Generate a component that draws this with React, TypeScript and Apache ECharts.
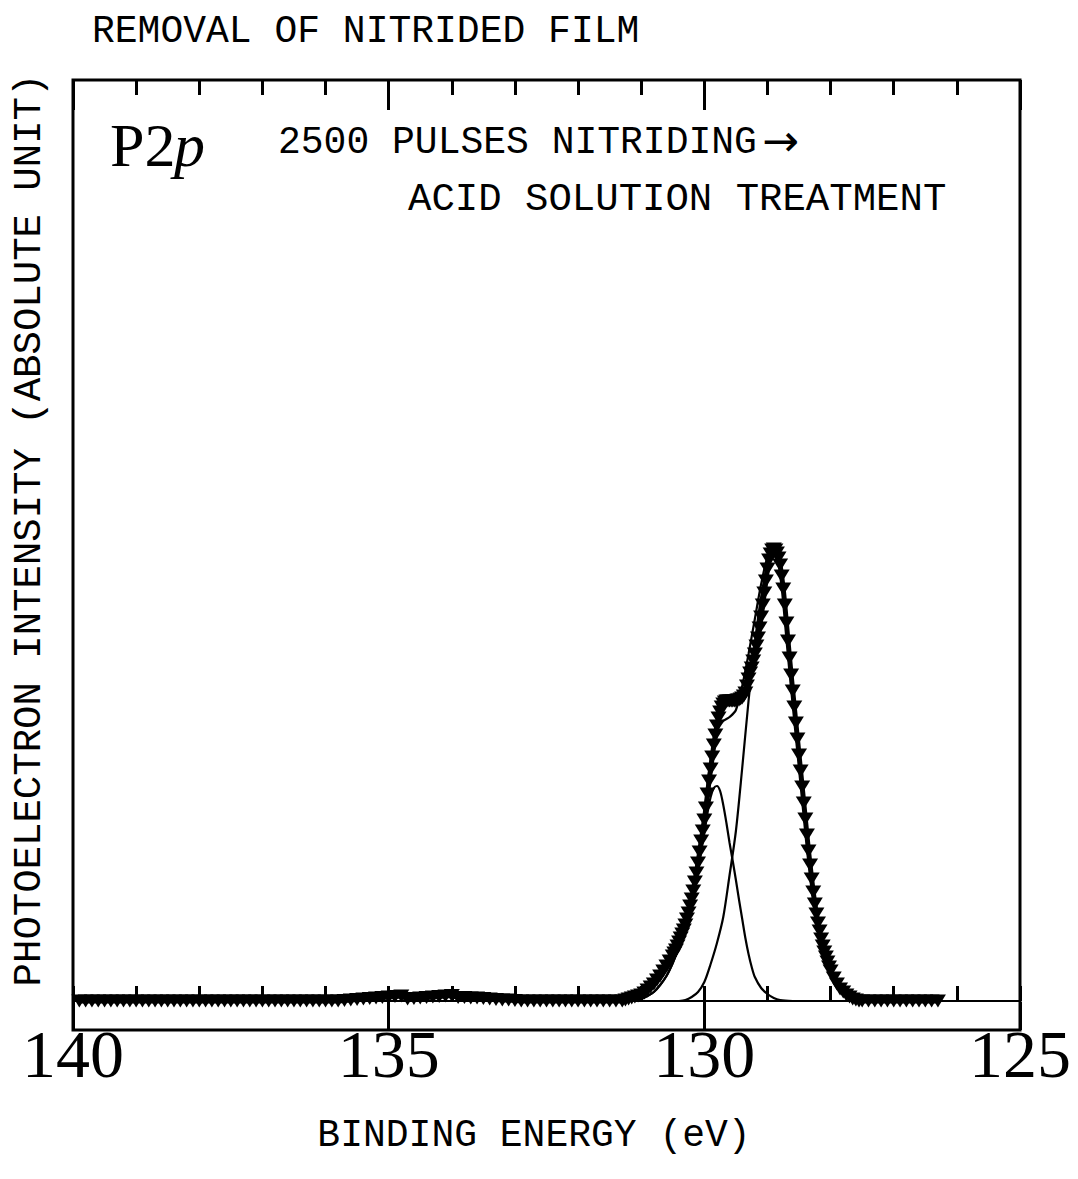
import React, { useEffect, useRef } from "react";
import * as echarts from "echarts";

// Binding energy axis (eV), reversed: 140 on the left, 125 on the right
const energyMin = 125;
const energyMax = 140;
const minorStep = 1;
const majorStep = 5;

// Measured P2p spectrum: [binding energy (eV), intensity (arb., baseline = 0)]
const measured: [number, number][] = [
  [139.9, 0], [139.8, 0], [139.7, 0], [139.6, 0], [139.5, 0], [139.4, 0], [139.3, 0], [139.2, 0], [139.1, 0], [139.0, 0],
  [138.9, 0], [138.8, 0], [138.7, 0], [138.6, 0], [138.5, 0], [138.4, 0], [138.3, 0], [138.2, 0], [138.1, 0], [138.0, 0],
  [137.9, 0], [137.8, 0], [137.7, 0], [137.6, 0], [137.5, 0], [137.4, 0], [137.3, 0], [137.2, 0], [137.1, 0], [137.0, 0],
  [136.9, 0], [136.8, 0], [136.7, 0], [136.6, 0], [136.5, 0], [136.4, 0], [136.3, 0], [136.2, 0], [136.1, 0], [136.0, 0],
  [135.9, 0], [135.8, 0], [135.7, 0.5], [135.6, 1], [135.5, 1.5], [135.4, 2], [135.3, 2.5], [135.2, 3], [135.1, 3.5], [135.0, 4],
  [134.9, 4.5], [134.8, 5], [134.7, 2], [134.6, 2.5], [134.5, 3], [134.4, 3.5], [134.3, 4], [134.2, 4.5], [134.1, 5], [134.0, 5.5],
  [133.9, 3.5], [133.8, 3.5], [133.7, 3], [133.6, 3], [133.5, 2.5], [133.4, 2], [133.3, 1.5], [133.2, 1], [133.1, 1], [133.0, 0.5],
  [132.9, 0], [132.8, 0], [132.7, 0], [132.6, 0], [132.5, 0], [132.4, 0], [132.3, 0], [132.2, 0], [132.1, 0], [132.0, 0],
  [131.9, 0], [131.8, 0], [131.7, 0], [131.6, 0], [131.5, 0], [131.4, 0],
  [131.3, 0], [131.25, 1], [131.2, 2], [131.15, 3], [131.1, 4], [131.05, 5], [131.0, 6], [130.95, 8], [130.9, 11], [130.85, 14],
  [130.8, 17], [130.75, 21], [130.7, 25], [130.65, 30], [130.6, 35], [130.55, 40], [130.5, 45], [130.475, 48], [130.45, 51], [130.425, 55],
  [130.4, 59], [130.375, 63], [130.35, 67], [130.325, 71], [130.3, 76], [130.275, 82], [130.25, 88], [130.225, 95], [130.2, 102], [130.175, 110],
  [130.15, 119], [130.125, 128], [130.1, 138], [130.075, 149], [130.05, 160], [130.025, 170], [130.0, 181], [129.975, 193], [129.95, 207], [129.925, 220],
  [129.9, 232], [129.875, 244], [129.85, 256], [129.825, 266], [129.8, 275], [129.775, 283], [129.75, 289], [129.725, 294], [129.7, 297], [129.675, 299],
  [129.65, 300], [129.625, 300], [129.6, 300], [129.575, 300], [129.55, 300], [129.525, 300], [129.5, 300], [129.475, 301], [129.45, 301], [129.425, 302],
  [129.4, 303], [129.375, 305], [129.35, 308], [129.325, 315], [129.3, 322], [129.275, 328], [129.25, 333], [129.225, 340], [129.2, 347], [129.175, 355],
  [129.15, 363], [129.125, 373], [129.1, 384], [129.075, 396], [129.05, 408], [129.025, 420], [129.0, 432], [128.975, 441], [128.95, 447], [128.925, 451],
  [128.9, 452], [128.875, 451], [128.85, 448], [128.825, 443], [128.8, 436], [128.775, 425], [128.75, 412], [128.725, 396], [128.7, 378], [128.675, 360],
  [128.65, 343], [128.625, 326], [128.6, 310], [128.575, 294], [128.55, 278], [128.525, 262], [128.5, 246], [128.475, 230], [128.45, 214], [128.425, 198],
  [128.4, 182], [128.375, 166], [128.35, 150], [128.325, 136], [128.3, 122], [128.275, 109], [128.25, 97], [128.225, 87], [128.2, 78], [128.175, 70],
  [128.15, 62], [128.125, 55], [128.1, 49], [128.075, 44], [128.05, 39], [128.025, 34], [128.0, 30], [127.95, 23], [127.9, 17], [127.85, 12],
  [127.8, 9], [127.75, 6], [127.7, 4], [127.65, 2], [127.6, 1], [127.55, 0], [127.5, 0],
  [127.4, 0], [127.3, 0], [127.2, 0], [127.1, 0], [127.0, 0], [126.9, 0], [126.8, 0], [126.7, 0], [126.6, 0], [126.5, 0],
  [126.4, 0], [126.3, 0],
];

// Fitted component at higher binding energy (~129.8 eV)
const fitHigh: [number, number][] = [
  [131.2, 0], [131.0, 2], [130.9, 5], [130.8, 9], [130.7, 16], [130.6, 25], [130.5, 38], [130.4, 54], [130.3, 73], [130.2, 100],
  [130.1, 133], [130.0, 168], [129.95, 188], [129.9, 204], [129.85, 213], [129.8, 215], [129.75, 210], [129.7, 196], [129.65, 178], [129.6, 158],
  [129.55, 140], [129.5, 121], [129.45, 101], [129.4, 82], [129.35, 63], [129.3, 47], [129.25, 34], [129.2, 24], [129.1, 13], [129.0, 7],
  [128.9, 3], [128.8, 1], [128.6, 0],
];

// Fitted component at lower binding energy (~128.9 eV)
const fitLow: [number, number][] = [
  [130.4, 0], [130.3, 1], [130.2, 4], [130.1, 9], [130.0, 19], [129.9, 37], [129.8, 58], [129.7, 84], [129.6, 126], [129.5, 170],
  [129.4, 233], [129.3, 300], [129.2, 358], [129.1, 404], [129.0, 437], [128.9, 452], [128.8, 436], [128.7, 378], [128.6, 310], [128.5, 246],
  [128.4, 182], [128.3, 122], [128.2, 78], [128.1, 49], [128.0, 30], [127.9, 17], [127.8, 9], [127.7, 4], [127.6, 1], [127.5, 0],
];

// Fitted envelope
const fitSum: [number, number][] = [
  [131.2, 0], [131.0, 2], [130.9, 5], [130.8, 9], [130.7, 16], [130.6, 25], [130.5, 38], [130.4, 54], [130.3, 74], [130.2, 104],
  [130.1, 142], [130.0, 187], [129.9, 241], [129.8, 273], [129.7, 280], [129.6, 284], [129.5, 291], [129.4, 315], [129.3, 347], [129.2, 382],
  [129.1, 417], [129.0, 444], [128.9, 455], [128.8, 437], [128.7, 378], [128.6, 310], [128.5, 246], [128.4, 182], [128.3, 122], [128.2, 78],
  [128.1, 49], [128.0, 30], [127.9, 17], [127.8, 9], [127.7, 4], [127.6, 1], [127.5, 0],
];

// Background line
const fitBaseline: [number, number][] = [
  [140, 0], [125, 0],
];

const MONO = "'Liberation Mono', 'DejaVu Sans Mono', monospace";
const SERIF = "'Liberation Serif', 'DejaVu Serif', serif";

export default function App() {
  const ref = useRef<HTMLDivElement>(null);

  useEffect(() => {
    if (!ref.current) return;
    const chart = echarts.init(ref.current, undefined, { renderer: "svg" });

    const tickAxis = (position: "top" | "bottom", interval: number, length: number, labels: boolean) => ({
      type: "value",
      min: energyMin,
      max: energyMax,
      inverse: true,
      interval,
      position,
      axisLine: { show: false },
      splitLine: { show: false },
      axisTick: { show: true, inside: true, length, lineStyle: { color: "#000", width: 3 } },
      axisLabel: labels
        ? {
            show: true,
            color: "#000",
            fontFamily: SERIF,
            fontSize: 68,
            margin: -10,
            showMinLabel: true,
            showMaxLabel: true,
          }
        : { show: false },
    });

    const thin = (data: [number, number][]) => ({
      type: "line",
      data,
      showSymbol: false,
      smooth: 0.3,
      lineStyle: { color: "#000", width: 2.2 },
      z: 2,
    });

    const option: any = {
      animation: false,
      backgroundColor: "#fff",
      grid: {
        left: 73,
        top: 80,
        width: 947,
        height: 950,
        show: true,
        borderColor: "#000",
        borderWidth: 3,
        backgroundColor: "transparent",
      },
      xAxis: [
        tickAxis("bottom", minorStep, 15, false),
        tickAxis("bottom", majorStep, 28, true),
        tickAxis("top", minorStep, 15, false),
        tickAxis("top", majorStep, 30, false),
      ],
      yAxis: { type: "value", min: -29, max: 921, show: false },
      series: [
        thin(fitBaseline),
        thin(fitHigh),
        thin(fitLow),
        thin(fitSum),
        {
          type: "line",
          data: measured,
          symbol: "triangle",
          symbolRotate: 180,
          symbolSize: [16, 13],
          itemStyle: { color: "#000" },
          lineStyle: { color: "#000", width: 5 },
          z: 5,
        },
      ],
      graphic: [
        {
          type: "text",
          left: 92,
          top: 12,
          style: { text: "REMOVAL OF NITRIDED FILM", font: `38px ${MONO}`, fill: "#000" },
        },
        {
          type: "text",
          x: 110,
          y: 145,
          style: { text: "P2", font: `62px ${SERIF}`, fill: "#000", verticalAlign: "middle" },
        },
        {
          type: "text",
          x: 174,
          y: 145,
          style: { text: "p", font: `italic 62px ${SERIF}`, fill: "#000", verticalAlign: "middle" },
        },
        {
          type: "text",
          x: 278,
          y: 142,
          style: { text: "2500 PULSES NITRIDING", font: `38px ${MONO}`, fill: "#000", verticalAlign: "middle" },
        },
        {
          type: "text",
          x: 762,
          y: 140,
          style: { text: "→", font: `44px 'DejaVu Sans', sans-serif`, fill: "#000", verticalAlign: "middle" },
        },
        {
          type: "text",
          x: 408,
          y: 200,
          style: { text: "ACID SOLUTION TREATMENT", font: `39px ${MONO}`, fill: "#000", verticalAlign: "middle" },
        },
        {
          type: "text",
          x: 534,
          y: 1135,
          style: { text: "BINDING ENERGY (eV)", font: `38px ${MONO}`, fill: "#000", align: "center", verticalAlign: "middle" },
        },
        {
          type: "text",
          x: 30,
          y: 530,
          rotation: Math.PI / 2,
          style: {
            text: "PHOTOELECTRON INTENSITY (ABSOLUTE UNIT)",
            font: `39px ${MONO}`,
            fill: "#000",
            align: "center",
            verticalAlign: "middle",
          },
        },
      ],
    };

    chart.setOption(option);
    return () => chart.dispose();
  }, []);

  return (
    <div
      ref={ref}
      style={{ position: "absolute", left: 0, top: 0, width: 1078, height: 1179, background: "#fff" }}
    />
  );
}
